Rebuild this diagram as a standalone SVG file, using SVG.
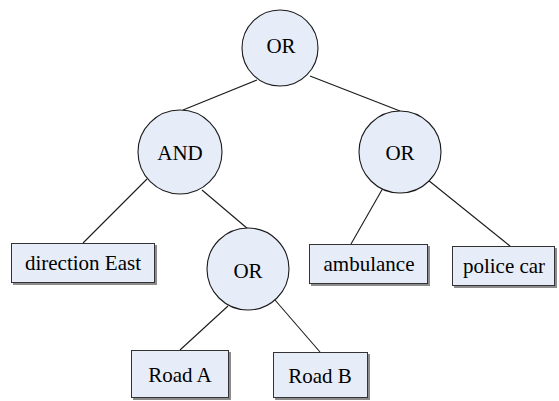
<svg xmlns="http://www.w3.org/2000/svg" width="559" height="401" viewBox="0 0 559 401">
<style>
.c{fill:#E7EDF8;stroke:#1a1a1a;stroke-width:1.1}
.b{fill:#E7EDF8;stroke:#333;stroke-width:1}
.s{fill:#8c8c8c}
text{font-family:'Liberation Serif','Times New Roman',Times,serif;font-size:21px;fill:#000;text-anchor:middle}
.e{stroke:#1a1a1a;stroke-width:1.1;fill:none}
</style>
<rect width="559" height="401" fill="#fff"/>
<g id="connectors">
<line class="e" x1="257" y1="80" x2="183" y2="110"/>
<line class="e" x1="310" y1="76" x2="400" y2="111"/>
<line class="e" x1="147" y1="179" x2="83" y2="243"/>
<line class="e" x1="202" y1="190" x2="248" y2="229"/>
<line class="e" x1="383" y1="188" x2="351" y2="244"/>
<line class="e" x1="428" y1="180" x2="510" y2="246"/>
<line class="e" x1="228" y1="306" x2="180" y2="350"/>
<line class="e" x1="275" y1="300" x2="320" y2="352"/>
</g>
<g id="or-root"><circle class="c" cx="280" cy="48" r="38"/><text x="281" y="53">OR</text></g>
<g id="and"><circle class="c" cx="180" cy="152" r="42"/><text x="180" y="160">AND</text></g>
<g id="or-right"><circle class="c" cx="400" cy="152" r="41"/><text x="400" y="160">OR</text></g>
<g id="or-bottom"><circle class="c" cx="248" cy="269" r="41"/><text x="248" y="278">OR</text></g>
<g id="direction-east"><rect class="s" x="13" y="245" width="144" height="40"/><rect class="b" x="11.5" y="243.5" width="143" height="39"/><text x="83" y="270">direction East</text></g>
<g id="ambulance"><rect class="s" x="311" y="246" width="119" height="40"/><rect class="b" x="309.5" y="244.5" width="118" height="39"/><text x="369" y="271">ambulance</text></g>
<g id="police-car"><rect class="s" x="454" y="248" width="103" height="40"/><rect class="b" x="452.5" y="246.5" width="102" height="39"/><text x="504" y="273">police car</text></g>
<g id="road-a"><rect class="s" x="133" y="352" width="98" height="48"/><rect class="b" x="131.5" y="350.5" width="97" height="47"/><text x="180" y="382">Road A</text></g>
<g id="road-b"><rect class="s" x="275" y="354" width="95" height="46"/><rect class="b" x="273.5" y="352.5" width="94" height="45"/><text x="320" y="383">Road B</text></g>
</svg>
